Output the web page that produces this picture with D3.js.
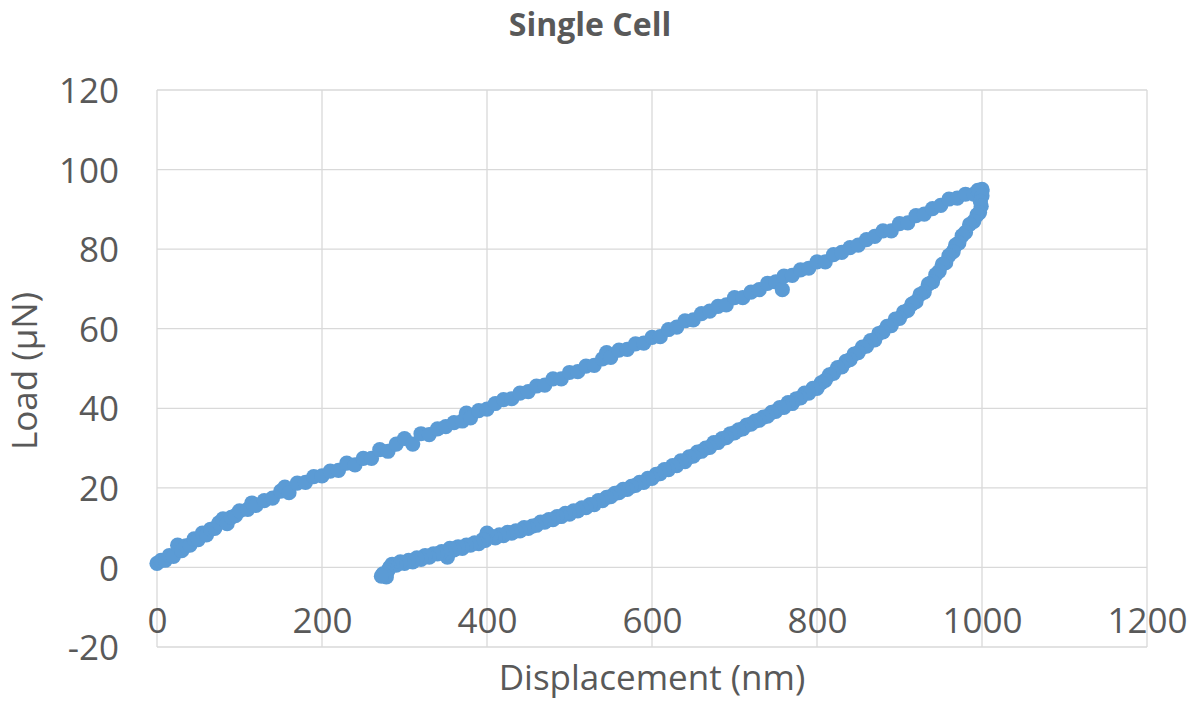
<!DOCTYPE html>
<html>
<head>
<meta charset="utf-8">
<script src="https://cdn.jsdelivr.net/npm/d3@7/dist/d3.min.js"></script>
<style>
  html, body { margin: 0; padding: 0; background: #fff; }
  svg { display: block; }
  text { font-family: "Open Sans", Lato, sans-serif; fill: #595959; }
</style>
</head>
<body>
<svg id="chart" width="1202" height="704"></svg>
<script>
// Loading branch: displacement (nm) and load (µN)
const loadX = [0,5,10,15,20,25,30,35,40,45,50,55,60,65,70,75,80,85,90,95,100,110,115,120,130,140,150,155,160,170,180,190,200,210,220,230,240,250,260,270,280,290,300,310,320,330,340,350,360,370,375,380,390,400,410,420,430,440,450,460,470,480,490,500,510,520,530,540,545,550,560,570,580,590,600,610,620,630,640,650,660,670,680,690,700,710,720,730,740,750,758,760,770,780,790,800,810,820,830,840,850,860,870,880,890,900,910,920,930,940,950,960,970,980,990,995,1000];
const loadY = [1.0,1.8,1.8,3.0,2.8,5.6,4.2,5.4,5.6,7.2,7.0,8.6,8.2,9.6,9.8,11.2,12.2,11.0,12.6,13.0,14.2,14.6,16.2,15.6,16.8,17.4,19.2,20.2,18.8,21.2,21.4,22.8,23.0,24.2,24.4,26.2,25.8,27.4,27.4,29.6,29.2,31.0,32.4,31.0,33.6,33.4,34.8,35.4,36.4,36.8,38.8,37.6,39.4,39.8,41.2,42.2,42.4,43.8,44.2,45.6,45.8,47.4,47.4,49.0,49.2,50.6,50.8,52.4,54.0,52.8,54.6,54.8,56.2,56.4,57.8,58.0,59.8,60.4,62.0,62.2,63.8,64.4,65.6,66.0,67.8,67.8,69.2,69.8,71.4,71.8,69.8,73.2,73.4,74.8,75.2,76.8,76.8,78.6,79.2,80.4,81.0,82.4,83.2,84.6,84.6,86.4,86.6,88.4,88.8,90.2,91.0,92.6,92.8,93.8,93.8,94.8,94.6];

// Unloading branch: displacement (nm) and load (µN)
const unloadX = [1000,996,1000,998,999,997,994,990,985,980,976,972,968,965,960,956,952,948,944,940,935,930,925,920,915,910,905,900,895,890,885,880,875,870,865,860,855,850,845,840,835,830,825,820,815,810,805,800,795,790,785,780,775,770,765,760,755,750,745,740,735,730,725,720,715,710,705,700,695,690,685,680,675,670,665,660,655,650,645,640,635,630,625,620,615,610,605,600,595,590,585,580,575,570,565,560,555,550,545,540,535,530,525,520,515,510,505,500,495,490,485,480,475,470,465,460,455,450,445,440,435,430,425,420,415,410,405,400,398,395,390,385,380,375,370,365,360,355,352,350,345,340,335,330,325,320,315,310,305,300,295,290,285,282,280,278,276,274,278,272];
const unloadY = [95.0,94.6,93.4,92.0,90.8,89.2,88.6,87.0,86.2,84.2,83.4,81.6,81.0,79.4,78.4,76.6,76.2,74.4,73.6,71.8,71.2,69.2,68.6,66.8,66.2,64.6,64.2,62.6,62.4,60.8,60.6,59.2,58.8,57.2,57.0,55.6,55.4,54.0,53.6,52.2,51.8,50.4,50.2,48.8,48.4,47.0,46.4,45.0,45.0,43.8,43.8,42.6,42.4,41.2,41.4,40.2,40.2,39.2,39.0,38.0,37.8,37.0,36.8,36.0,35.8,34.8,34.6,33.8,33.6,32.6,32.4,31.4,31.4,30.2,30.0,29.2,29.0,28.0,27.8,26.6,26.8,25.6,25.6,24.6,24.6,23.6,23.4,22.4,22.4,21.4,21.4,20.6,20.4,19.6,19.6,18.8,18.6,17.8,17.6,16.8,16.8,15.8,15.8,15.0,15.0,14.2,14.2,13.4,13.6,12.8,12.8,12.0,12.0,11.4,11.4,10.6,10.4,9.8,10.0,9.2,9.2,8.6,8.8,8.0,8.2,7.4,7.8,8.6,6.8,7.0,6.0,6.2,5.6,5.6,4.8,5.2,4.4,4.8,2.6,3.8,4.0,3.4,3.4,2.6,3.0,2.0,2.4,1.4,1.8,1.0,1.4,0.6,0.8,0.0,-0.8,-1.4,-2.0,-1.6,-2.4,-2.2];

const xTicks = [0, 200, 400, 600, 800, 1000, 1200];
const yTicks = [-20, 0, 20, 40, 60, 80, 100, 120];

const chartTitle = "Single Cell";
const xTitle = "Displacement (nm)";
const yTitle = "Load (\u03BCN)";

const svg = d3.select("#chart");
const plot = { left: 157, right: 1147, top: 90, bottom: 647 };
const labelSize = 35;

const x = d3.scaleLinear().domain([0, 1200]).range([plot.left, plot.right]);
const y = d3.scaleLinear().domain([-20, 120]).range([plot.bottom, plot.top]);

// Gridlines, including the outer frame of the plot area
const grid = svg.append("g").attr("stroke", "#d9d9d9").attr("stroke-width", 1.3);
grid.selectAll("line.v").data(xTicks).join("line")
  .attr("x1", d => x(d)).attr("x2", d => x(d))
  .attr("y1", plot.top).attr("y2", plot.bottom);
grid.selectAll("line.h").data(yTicks).join("line")
  .attr("x1", plot.left).attr("x2", plot.right)
  .attr("y1", d => y(d)).attr("y2", d => y(d));

// Value axis (left): labels only
const yAxis = svg.append("g")
  .attr("transform", `translate(${plot.left},0)`)
  .call(d3.axisLeft(y).tickValues(yTicks).tickSize(0).tickPadding(38).tickFormat(d => String(d)));
yAxis.select(".domain").remove();
yAxis.selectAll("text")
  .attr("font-size", labelSize).attr("dy", "0.36em")
  .style("font-family", "'Open Sans', Lato, sans-serif").attr("fill", "#595959");

// Displacement axis: labels sit just below the zero line
const xAxis = svg.append("g")
  .attr("transform", `translate(0,${y(0)})`)
  .call(d3.axisBottom(x).tickValues(xTicks).tickSize(0).tickFormat(d => String(d)));
xAxis.select(".domain").remove();
xAxis.selectAll("text")
  .attr("font-size", labelSize).attr("y", 66).attr("dy", 0)
  .style("font-family", "'Open Sans', Lato, sans-serif").attr("fill", "#595959");

// Data points
const color = "#5b9bd5";
const loading = loadX.map((d, i) => [d, loadY[i]]);
const unloading = unloadX.map((d, i) => [d, unloadY[i]]);
const pts = svg.append("g").attr("fill", color);
pts.selectAll("circle.l").data(loading).join("circle")
  .attr("cx", d => x(d[0])).attr("cy", d => y(d[1])).attr("r", 7.6);
pts.selectAll("circle.u").data(unloading).join("circle")
  .attr("cx", d => x(d[0])).attr("cy", d => y(d[1])).attr("r", 7.6);

// Titles
svg.append("text").attr("x", 590).attr("y", 36).attr("text-anchor", "middle")
  .attr("font-size", 32).attr("font-weight", "bold").text(chartTitle);
svg.append("text").attr("x", 652).attr("y", 690).attr("text-anchor", "middle")
  .attr("font-size", labelSize).text(xTitle);
svg.append("text").attr("transform", "translate(37,371) rotate(-90)").attr("text-anchor", "middle")
  .attr("font-size", labelSize).text(yTitle);
</script>
</body>
</html>
